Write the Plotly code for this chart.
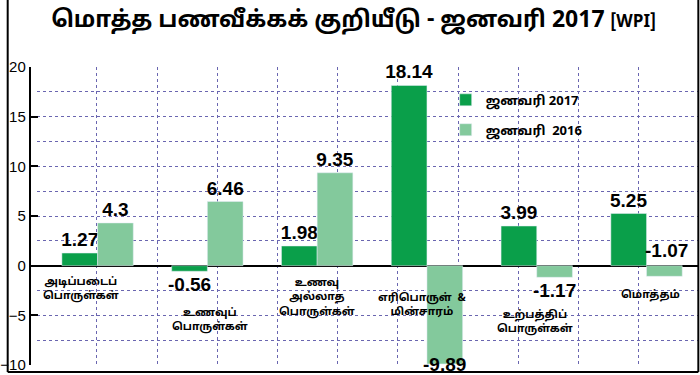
import plotly.graph_objects as go

categories = ["அடிப்படைப்<br>பொருள்கள்", "உணவுப்<br>பொருள்கள்", "உணவு<br>அல்லாத<br>பொருள்கள்",
              "எரிபொருள்  &<br>மின்சாரம்", "உற்பத்திப்<br>பொருள்கள்", "மொத்தம்"]
jan2017 = [1.27, -0.56, 1.98, 18.14, 3.99, 5.25]
jan2016 = [4.3, 6.46, 9.35, -9.89, -1.17, -1.07]
series_names = ["ஜனவரி 2017", "ஜனவரி  2016"]
title_text = "மொத்த பணவீக்கக் குறியீடு - ஜனவரி 2017"

W, H = 700, 375
ML, MR, MT, MB = 0, 0, 67, 10
x_left_px, x_right_px = 30, 699
group_px = 110.9
first_center_px = 91.5
plot_h = H - MT - MB

xs = list(range(len(categories)))
x0 = (x_left_px - first_center_px) / group_px
x1 = (x_right_px - first_center_px) / group_px
grid_step = (x_right_px - x_left_px) / 11 / group_px

TAMIL = "Noto Sans Tamil, Lohit Tamil, Noto Sans, sans-serif"
NUMF = "Liberation Sans Narrow, Arial Narrow, Liberation Sans, sans-serif"
DARK = "#0a9f4a"
LIGHT = "#83c99c"
GRID = "#6a66b0"
VAL_FONT = dict(family=NUMF, size=19, color="black", weight="bold")

# label placement per 2016 bar: plotly "outside" or handled by annotation
tp2016 = ["outside", "outside", "outside", "none", "outside", "none"]

fig = go.Figure()
fig.add_trace(go.Bar(x=xs, y=jan2017, name=series_names[0], marker_color=DARK,
                     text=[str(v) for v in jan2017], texttemplate="%{text}",
                     textposition="outside", cliponaxis=False,
                     constraintext="none", textfont=VAL_FONT, legendgroup="a"))
fig.add_trace(go.Bar(x=xs, y=jan2016, name=series_names[1], marker_color=LIGHT,
                     text=[str(v) for v in jan2016], texttemplate="%{text}",
                     textposition=tp2016, cliponaxis=False,
                     constraintext="none", textfont=VAL_FONT, legendgroup="b"))

# -9.89 label sits at the end of its bar
fig.add_annotation(x=xs[3], y=jan2016[3], text=str(jan2016[3]), showarrow=False,
                   yanchor="middle", xshift=18, yshift=-1, font=VAL_FONT)
# -1.07 label sits above the zero line
fig.add_annotation(x=xs[5], y=0, text=str(jan2016[5]), showarrow=False, yanchor="bottom",
                   xshift=20, yshift=3, font=VAL_FONT)

# category labels
label_xshift = [-17, 3, 0, -4, -2, 4]
label_yshift = [-7, -38, -8, -23, -40, -20]
for i, c in enumerate(categories):
    fig.add_annotation(x=xs[i], y=0, text=c, showarrow=False, yanchor="top",
                       xshift=label_xshift[i], yshift=label_yshift[i],
                       font=dict(family=TAMIL, size=11, color="black", weight="bold"))

# frame (left, right, bottom)
y_bottom = -(372 - (H - MB)) / plot_h
y_top = 1 + MT / plot_h
for (a, b, c, d) in [(0.001, y_bottom, 0.001, y_top), (0.9976, y_bottom, 0.9976, y_top),
                     (0.001, y_bottom, 0.9976, y_bottom)]:
    fig.add_shape(type="line", xref="paper", yref="paper", x0=a, y0=b, x1=c, y1=d,
                  line=dict(color="black", width=2))

fig.update_layout(
    width=W, height=H, margin=dict(l=ML, r=MR, t=MT, b=MB),
    paper_bgcolor="white", plot_bgcolor="white",
    barmode="group", bargap=0.35, bargroupgap=0,
    title=dict(text=title_text + " <span style='font-size:17px'>[WPI]</span>",
               x=0.505, xanchor="center", y=0.972, yanchor="top",
               font=dict(family=TAMIL, size=23, color="black", weight="bold")),
    legend=dict(x=0.633, y=0.94, xanchor="left", yanchor="top", bgcolor="rgba(0,0,0,0)",
                font=dict(family=TAMIL, size=13, color="black", weight="bold"),
                tracegroupgap=10, itemwidth=30),
    xaxis=dict(domain=[x_left_px / W, x_right_px / W], range=[x0, x1],
               showticklabels=False, ticks="", tick0=x0, dtick=grid_step,
               showgrid=True, gridcolor=GRID, griddash="dot", gridwidth=1,
               zeroline=False, showline=False),
    yaxis=dict(range=[-10, 20], dtick=5, tick0=0, anchor="free", position=23 / W,
               showline=True, linecolor="black", linewidth=2,
               ticks="inside", ticklen=7, tickwidth=2, tickcolor="black",
               tickfont=dict(family="Liberation Sans, Arial, sans-serif", size=15, color="black"),
               showgrid=True, gridcolor=GRID, griddash="dot", gridwidth=1,
               minor=dict(dtick=2.5, showgrid=True, gridcolor=GRID, griddash="dot", gridwidth=1),
               zeroline=True, zerolinecolor="black", zerolinewidth=2),
)
fig.write_html("out.html", config={"displayModeBar": False},
               post_script="document.body.style.margin='0px';document.body.style.overflow='hidden';")
